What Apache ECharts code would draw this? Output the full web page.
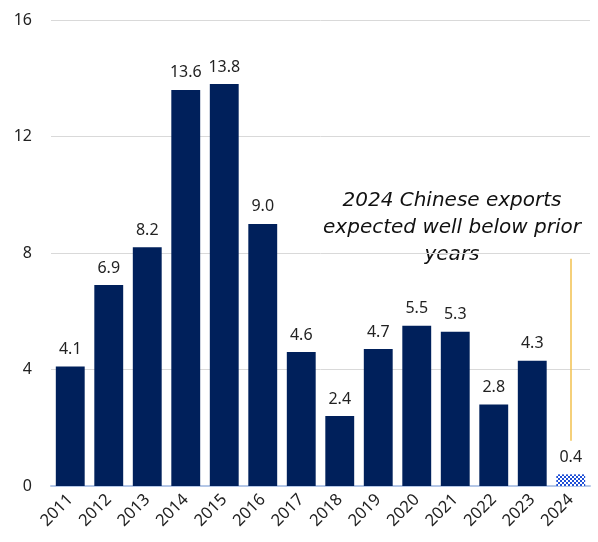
<!DOCTYPE html>
<html>
<head>
<meta charset="utf-8">
<script src="https://cdn.jsdelivr.net/npm/echarts@6/dist/echarts.min.js"></script>
<style>
  html, body { margin: 0; padding: 0; background: #fff; }
  #main { width: 598px; height: 542px; }
</style>
</head>
<body>
<div id="main"></div>
<script>
const years = ["2011", "2012", "2013", "2014", "2015", "2016", "2017", "2018", "2019", "2020", "2021", "2022", "2023", "2024"];
const exportsVals = [4.1, 6.9, 8.2, 13.6, 13.8, 9.0, 4.6, 2.4, 4.7, 5.5, 5.3, 2.8, 4.3, 0.4];
const yTicks = [0, 4, 8, 12, 16];
const noteLines = ["2024 Chinese exports", "expected well below prior", "years"];

// checker pattern for the estimated 2024 bar
const pat = document.createElement("canvas");
pat.width = 4;
pat.height = 4;
const pctx = pat.getContext("2d");
pctx.fillStyle = "#ffffff";
pctx.fillRect(0, 0, 4, 4);
pctx.fillStyle = "#1f4fd6";
pctx.fillRect(0, 0, 2, 2);
pctx.fillRect(2, 2, 2, 2);

const chart = echarts.init(document.getElementById("main"));

const barData = exportsVals.map((v, i) => {
  if (years[i] === "2024") {
    return { value: v, itemStyle: { color: { image: pat, repeat: "repeat" } } };
  }
  return v;
});

const font = "'Noto Sans', sans-serif";

const option = {
  animation: false,
  textStyle: { fontFamily: font },
  grid: { left: 51, right: 8, top: 20, bottom: 56 },
  xAxis: {
    type: "category",
    data: years,
    axisLine: { lineStyle: { color: "#b4c7e7", width: 2 } },
    axisTick: { show: false },
    axisLabel: { rotate: 45, fontSize: 16.5, color: "#222", margin: 11 }
  },
  yAxis: {
    type: "value",
    min: yTicks[0],
    max: yTicks[yTicks.length - 1],
    interval: 4,
    axisLine: { show: false },
    axisTick: { show: false },
    splitLine: { lineStyle: { color: "#d9d9d9", width: 1 } },
    axisLabel: { fontSize: 16, color: "#222", margin: 19 }
  },
  series: [{
    type: "bar",
    data: barData,
    barCategoryGap: "25%",
    itemStyle: { color: "#00205b" },
    label: {
      show: true,
      position: "top",
      distance: 9,
      fontSize: 16,
      color: "#222",
      formatter: p => p.value.toFixed(1)
    },
    markLine: {
      silent: true,
      symbol: "none",
      label: { show: false },
      lineStyle: { color: "#f2c14e", width: 1.5, type: "solid" },
      data: [[{ coord: ["2024", 1.55] }, { coord: ["2024", 7.8] }]]
    }
  }],
  graphic: [{
    type: "text",
    x: 452,
    y: 187,
    style: {
      text: noteLines.join("\n"),
      align: "center",
      font: "italic 20px 'DejaVu Sans', sans-serif",
      fill: "#111",
      lineHeight: 27
    }
  }]
};

chart.setOption(option);
</script>
</body>
</html>
